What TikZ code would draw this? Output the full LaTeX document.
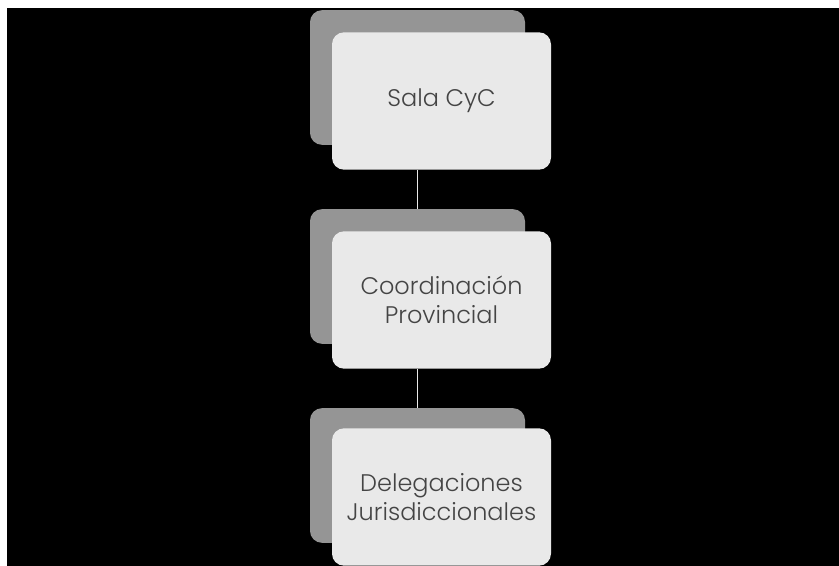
\documentclass[tikz,border=0pt]{standalone}
\usepackage{fontspec}
\setmainfont{Poppins}[UprightFont=* Light]
\usetikzlibrary{positioning}
\definecolor{backgray}{HTML}{959595}
\definecolor{frontgray}{HTML}{E9E9E9}
\definecolor{txtgray}{HTML}{444444}
\tikzset{
  backbox/.style={draw=none,fill=backgray,rounded corners=9,minimum width=161.25pt,minimum height=101pt,inner sep=0pt},
  frontbox/.style={draw=none,fill=frontgray,rounded corners=9,minimum width=164.25pt,minimum height=103pt,inner sep=0pt,
    text=txtgray,align=center,font=\fontsize{18}{21.5}\selectfont},
  link/.style={draw=frontgray,line width=1.2pt}
}
\begin{document}
\begin{tikzpicture}[x=0.75pt,y=-0.75pt]
		\useasboundingbox (0,0) rectangle (839,566);
		\fill[white] (0,0) rectangle (839,566);
		\fill[black] (7,8) rectangle (839,566);
		% boxes behind
		\node[backbox] (back1) at (417.5,77.5) {};
		\node[backbox] (back2) at (417.5,276.5) {};
		\node[backbox] (back3) at (417.5,475.5) {};
		% boxes in front
		\node[frontbox] (sala) at (441.5,101) {Sala CyC};
		\node[frontbox] (coord) at (441.5,300) {Coordinación\\Provincial};
		\node[frontbox] (deleg) at (441.5,497) {Delegaciones\\Jurisdiccionales};
		% connectors
		\draw[link] (back2.north |- sala.south) -- (back2.north);
		\draw[link] (back3.north |- coord.south) -- (back3.north);
\end{tikzpicture}
\end{document}
